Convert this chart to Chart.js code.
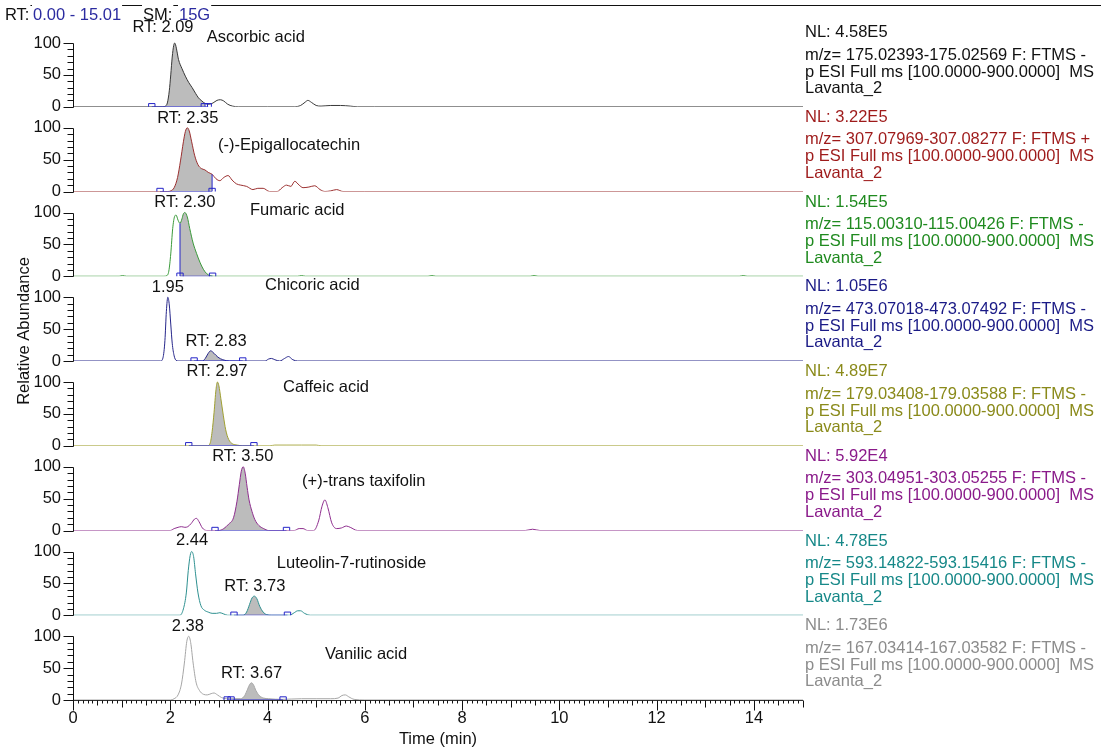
<!DOCTYPE html>
<html>
<head>
<meta charset="utf-8">
<title>Lavanta_2 extracted ion chromatograms</title>
<script src="https://cdn.jsdelivr.net/npm/chart.js@4.4.1/dist/chart.umd.min.js"></script>
<style>
  html, body { margin: 0; padding: 0; background: #fff; }
  canvas { display: block; }
</style>
</head>
<body>
<canvas id="chrom" width="1101" height="749"></canvas>
<script>
const FONT = '"Liberation Sans", Arial, sans-serif';
const FS = 16.5;
const T_MAX = 15.01;
const Y_MAX = 133;
const X_TICKS = [0, 2, 4, 6, 8, 10, 12, 14];
const Y_TICKS = [0, 50, 100];

// retention time (min) / relative abundance (%) for each extracted ion trace
const ascorbicTime = [0, 1.85, 1.90, 1.94, 1.98, 2.01, 2.04, 2.07, 2.09, 2.11, 2.14, 2.17, 2.24, 2.31, 2.38, 2.45, 2.52, 2.58, 2.65, 2.72, 2.80, 2.88, 2.96, 3.03, 3.10, 3.18, 3.28, 3.40, 4.00, 4.55, 4.68, 4.77, 4.83, 4.90, 5.00, 5.10, 5.30, 5.50, 5.70, 5.85, 6.20, 15.01];
const ascorbicAbund = [0, 0, 1, 6, 25, 50, 78, 96, 100, 97, 86, 74, 60, 48, 38, 30, 21, 14, 9, 5, 4, 6, 10, 11, 9, 4, 1, 0, 0, 0, 2, 7, 10, 7, 2, 1, 2, 2, 1, 0, 0, 0];

const egcTime = [0, 1.95, 2.01, 2.08, 2.15, 2.21, 2.27, 2.31, 2.35, 2.39, 2.44, 2.50, 2.57, 2.64, 2.71, 2.78, 2.86, 2.94, 3.02, 3.10, 3.19, 3.27, 3.36, 3.45, 3.57, 3.70, 3.80, 3.91, 4.04, 4.20, 4.30, 4.39, 4.48, 4.56, 4.65, 4.73, 4.85, 4.97, 5.08, 5.18, 5.30, 5.42, 5.55, 6.00, 15.01];
const egcAbund = [0, 0, 1, 6, 22, 48, 78, 94, 100, 95, 78, 57, 42, 36, 34, 30, 27, 20, 17, 22, 25, 18, 12, 10, 8, 3, 5, 5, 0, 0, 6, 10, 8, 16, 10, 6, 7, 9, 3, 0, 1, 3, 0, 0, 0];

const fumaricTime = [0, 0.95, 1.02, 1.10, 1.87, 1.93, 1.97, 2.01, 2.05, 2.09, 2.12, 2.16, 2.20, 2.24, 2.27, 2.30, 2.35, 2.40, 2.47, 2.54, 2.61, 2.68, 2.75, 2.82, 2.90, 4.62, 4.70, 4.78, 7.30, 7.38, 7.46, 9.40, 9.48, 9.56, 13.70, 13.78, 13.86, 15.01];
const fumaricAbund = [0, 0, 1, 0, 0, 1, 8, 35, 75, 94, 96, 88, 83, 90, 98, 100, 93, 75, 52, 36, 22, 11, 4, 1, 0, 0, 1, 0, 0, 1, 0, 0, 1, 0, 0, 1, 0, 0];

const chicoricTime = [0, 1.80, 1.85, 1.89, 1.92, 1.95, 1.98, 2.01, 2.04, 2.08, 2.12, 2.16, 2.66, 2.72, 2.78, 2.83, 2.90, 2.98, 3.08, 3.22, 3.95, 4.02, 4.08, 4.15, 4.25, 4.35, 4.43, 4.52, 4.62, 15.01];
const chicoricAbund = [0, 0, 5, 32, 78, 100, 88, 58, 28, 8, 1, 0, 0, 4, 12, 16, 12, 6, 2, 0, 0, 3, 4, 2, 0, 4, 7, 2, 0, 0];

const caffeicTime = [0, 2.76, 2.82, 2.86, 2.90, 2.94, 2.97, 3.00, 3.04, 3.09, 3.14, 3.20, 3.28, 3.38, 3.48, 4.05, 4.15, 4.40, 4.70, 5.00, 5.10, 15.01];
const caffeicAbund = [0, 0, 4, 22, 52, 88, 100, 94, 74, 48, 25, 10, 3, 1, 0, 0, 1, 1, 1, 1, 0, 0];

const taxifolinTime = [0, 2.00, 2.08, 2.16, 2.23, 2.30, 2.36, 2.43, 2.50, 2.54, 2.59, 2.66, 2.75, 3.00, 3.10, 3.20, 3.30, 3.37, 3.42, 3.46, 3.50, 3.54, 3.58, 3.62, 3.68, 3.74, 3.82, 3.92, 4.02, 4.55, 4.65, 4.73, 4.82, 4.95, 5.05, 5.12, 5.18, 5.24, 5.32, 5.42, 5.52, 5.62, 5.70, 5.85, 9.30, 9.45, 9.60, 15.01];
const taxifolinAbund = [0, 0, 3, 5, 6, 5, 6, 11, 18, 19, 14, 4, 0, 0, 3, 10, 20, 45, 72, 93, 100, 90, 68, 48, 30, 17, 8, 3, 0, 0, 3, 3, 0, 0, 15, 38, 48, 36, 12, 3, 4, 7, 5, 0, 0, 2, 0, 0];

const luteolinTime = [0, 2.20, 2.27, 2.33, 2.37, 2.41, 2.44, 2.48, 2.52, 2.57, 2.63, 2.70, 2.78, 2.86, 2.95, 3.02, 3.10, 3.18, 3.50, 3.57, 3.63, 3.68, 3.73, 3.78, 3.84, 3.91, 3.98, 4.08, 4.45, 4.55, 4.62, 4.68, 4.76, 4.88, 15.01];
const luteolinAbund = [0, 0, 10, 35, 70, 94, 100, 92, 65, 35, 15, 8, 5, 3, 3, 4, 2, 0, 0, 5, 17, 27, 30, 26, 14, 5, 1, 0, 0, 4, 7, 7, 3, 0, 0];

const vanilicTime = [0, 2.00, 2.08, 2.16, 2.23, 2.29, 2.34, 2.38, 2.42, 2.47, 2.53, 2.60, 2.68, 2.76, 2.84, 2.90, 2.97, 3.05, 3.15, 3.30, 3.45, 3.53, 3.59, 3.63, 3.67, 3.71, 3.76, 3.83, 3.92, 4.02, 4.30, 4.70, 5.00, 5.30, 5.45, 5.53, 5.60, 5.67, 5.78, 6.00, 15.01];
const vanilicAbund = [0, 0, 2, 8, 25, 58, 92, 100, 90, 58, 28, 15, 9, 8, 10, 11, 8, 4, 2, 2, 2, 7, 17, 24, 27, 24, 15, 7, 3, 2, 1, 2, 2, 2, 3, 7, 8, 5, 1, 0, 0];

// integration limits (min) of the shaded peak; a drop time splits a merged peak
const ascorbicLimits = [1.62, 2.70, 2.78];
const egcLimits = [1.79, 2.86];
const fumaricLimits = [2.20, 2.87];
const chicoricLimits = [2.49, 3.49];
const caffeicLimits = [2.38, 3.72];
const taxifolinLimits = [2.92, 4.39];
const luteolinLimits = [3.31, 4.41];
const vanilicLimits = [3.17, 3.25, 4.32];

const SCAN = 'p ESI Full ms [100.0000-900.0000]  MS';
const RAW = 'Lavanta_2';

const panels = [
  { time: ascorbicTime, abund: ascorbicAbund, limits: ascorbicLimits, drop: null,
    line: '#383838', text: '#111111', nl: 'NL: 4.58E5', mz: 'm/z= 175.02393-175.02569 F: FTMS -',
    labels: [['RT: 2.09', 1.85, 125, 'center'], ['Ascorbic acid', 2.75, 108, 'left']] },
  { time: egcTime, abund: egcAbund, limits: egcLimits, drop: 2.86,
    line: '#9b3030', text: '#9e1a1a', nl: 'NL: 3.22E5', mz: 'm/z= 307.07969-307.08277 F: FTMS +',
    labels: [['RT: 2.35', 2.36, 115, 'center'], ['(-)-Epigallocatechin', 2.98, 73, 'left']] },
  { time: fumaricTime, abund: fumaricAbund, limits: fumaricLimits, drop: 2.20,
    line: '#3a9a3a', text: '#1f8a1f', nl: 'NL: 1.54E5', mz: 'm/z= 115.00310-115.00426 F: FTMS -',
    labels: [['RT: 2.30', 2.30, 116, 'center'], ['Fumaric acid', 3.64, 104, 'left']] },
  { time: chicoricTime, abund: chicoricAbund, limits: chicoricLimits, drop: null,
    line: '#26268a', text: '#1a1a86', nl: 'NL: 1.05E6', mz: 'm/z= 473.07018-473.07492 F: FTMS -',
    labels: [['1.95', 1.95, 116, 'center'], ['Chicoric acid', 3.95, 118, 'left'], ['RT: 2.83', 2.94, 30, 'center']] },
  { time: caffeicTime, abund: caffeicAbund, limits: caffeicLimits, drop: null,
    line: '#a0a030', text: '#8a8a1a', nl: 'NL: 4.89E7', mz: 'm/z= 179.03408-179.03588 F: FTMS -',
    labels: [['RT: 2.97', 2.96, 116, 'center'], ['Caffeic acid', 4.32, 91, 'left']] },
  { time: taxifolinTime, abund: taxifolinAbund, limits: taxifolinLimits, drop: null,
    line: '#8e2e8e', text: '#8a1a8a', nl: 'NL: 5.92E4', mz: 'm/z= 303.04951-303.05255 F: FTMS -',
    labels: [['RT: 3.50', 3.49, 116, 'center'], ['(+)-trans taxifolin', 4.71, 77, 'left']] },
  { time: luteolinTime, abund: luteolinAbund, limits: luteolinLimits, drop: null,
    line: '#2e9090', text: '#168888', nl: 'NL: 4.78E5', mz: 'm/z= 593.14822-593.15416 F: FTMS -',
    labels: [['2.44', 2.45, 117, 'center'], ['Luteolin-7-rutinoside', 4.19, 82, 'left'], ['RT: 3.73', 3.74, 45, 'center']] },
  { time: vanilicTime, abund: vanilicAbund, limits: vanilicLimits, drop: null,
    line: '#a6a6a6', text: '#8c8c8c', nl: 'NL: 1.73E6', mz: 'm/z= 167.03414-167.03582 F: FTMS -',
    labels: [['2.38', 2.36, 116, 'center'], ['Vanilic acid', 5.18, 72, 'left'], ['RT: 3.67', 3.67, 42, 'center']] }
];

const PEAK_FILL = '#bcbcbc';
const LIMIT_BLUE = '#2424c8';

const datasets = [];
const scales = {
  x: {
    type: 'linear', position: 'bottom', min: 0, max: T_MAX,
    afterBuildTicks: s => { s.ticks = X_TICKS.map(v => ({ value: v })); },
    afterFit: s => { s.height = 49; },
    grid: { display: false, drawTicks: false },
    border: { display: false },
    ticks: { font: { family: FONT, size: FS }, color: '#111', padding: 9, maxRotation: 0, autoSkip: false },
    title: { display: true, text: 'Time (min)', font: { family: FONT, size: FS }, color: '#111', padding: { top: 0, bottom: 0 } }
  }
};

panels.forEach((p, i) => { p.id = 'y' + i; });

// stacked left axes are laid out bottom-up, so register the last trace first
panels.slice().reverse().forEach(p => {
  scales[p.id] = {
    type: 'linear', position: 'left', stack: 'traces', stackWeight: 1,
    min: 0, max: Y_MAX,
    afterBuildTicks: s => { s.ticks = Y_TICKS.map(v => ({ value: v })); },
    afterFit: s => { s.width = 73; },
    grid: { display: false, drawTicks: false },
    border: { display: false },
    ticks: { font: { family: FONT, size: FS }, color: '#111', padding: 12, autoSkip: false }
  };
});

panels.forEach(p => {
  const id = p.id;
  const pts = p.time.map((t, k) => ({ x: t, y: p.abund[k] }));
  const lo = p.limits[0], hi = p.limits[p.limits.length - 1];
  const start = p.drop !== null && p.drop < (lo + hi) / 2 ? p.drop : lo;

  // shaded integrated area
  datasets.push({
    data: pts.filter(d => d.x >= start && d.x <= hi),
    yAxisID: id, xAxisID: 'x', order: 3,
    fill: 'origin', backgroundColor: PEAK_FILL, borderWidth: 0,
    pointRadius: 0, cubicInterpolationMode: 'monotone'
  });
  // the trace itself
  datasets.push({
    data: pts, yAxisID: id, xAxisID: 'x', order: 2,
    borderColor: p.line, borderWidth: 1, fill: false,
    pointRadius: 0, cubicInterpolationMode: 'monotone'
  });
  // integration baseline with its end markers
  datasets.push({
    data: p.limits.map(t => ({ x: t, y: 0 })), yAxisID: id, xAxisID: 'x', order: 1,
    borderColor: LIMIT_BLUE, borderWidth: 1, tension: 0,
    pointStyle: 'rect', pointRadius: 4.5, pointBorderWidth: 1,
    pointBorderColor: LIMIT_BLUE, pointBackgroundColor: 'rgba(0,0,0,0)'
  });
  if (p.drop !== null) {
    const k = p.time.indexOf(p.drop);
    const top = k >= 0 ? p.abund[k] : 0;
    datasets.push({
      data: [{ x: p.drop, y: 0 }, { x: p.drop, y: top }], yAxisID: id, xAxisID: 'x', order: 1,
      borderColor: LIMIT_BLUE, borderWidth: 1, pointRadius: 0, tension: 0
    });
  }
});

const crisp = v => Math.round(v) + 0.5;
const bottomScale = chart => chart.scales[panels[panels.length - 1].id];

const decor = {
  id: 'decor',
  beforeDatasetsDraw(chart) {
    const ctx = chart.ctx, xs = chart.scales.x;
    const yb = crisp(bottomScale(chart).getPixelForValue(0));
    ctx.save();
    ctx.strokeStyle = '#333';
    ctx.lineWidth = 1;
    ctx.beginPath();
    ctx.moveTo(xs.left, yb);
    ctx.lineTo(xs.right, yb);
    ctx.stroke();

    // header line with range / smoothing info
    ctx.strokeStyle = '#111';
    ctx.beginPath();
    ctx.moveTo(5, 5.5);
    ctx.lineTo(chart.width, 5.5);
    ctx.stroke();
    ctx.font = FS + 'px ' + FONT;
    ctx.textBaseline = 'middle';
    ctx.textAlign = 'left';
    [['RT:', 5, '#111'], ['0.00 - 15.01', 33, '#2b2ba0'], ['SM:', 143, '#111'], ['15G', 179, '#2b2ba0']].forEach(([txt, x, col]) => {
      const w = ctx.measureText(txt).width;
      ctx.fillStyle = '#fff';
      ctx.fillRect(x - 1, 0, w + 2, 20);
      ctx.fillStyle = col;
      ctx.fillText(txt, x, 15);
    });
    ctx.restore();
  },
  afterDatasetsDraw(chart) {
    const ctx = chart.ctx, xs = chart.scales.x;
    ctx.save();
    ctx.font = FS + 'px ' + FONT;
    ctx.textBaseline = 'middle';
    ctx.fillStyle = '#111';
    panels.forEach(p => {
      const ys = chart.scales[p.id];
      p.labels.forEach(([txt, t, v, align]) => {
        ctx.textAlign = align;
        ctx.fillText(txt, xs.getPixelForValue(t), ys.getPixelForValue(v));
      });
    });
    ctx.restore();
  },
  afterDraw(chart) {
    const ctx = chart.ctx, xs = chart.scales.x;
    const x0 = crisp(xs.left);
    ctx.save();
    ctx.strokeStyle = '#111';
    ctx.lineWidth = 1;

    // y axis spines, 0-100 only, with minor ticks every 10
    panels.forEach(p => {
      const ys = chart.scales[p.id];
      ctx.beginPath();
      ctx.moveTo(x0, crisp(ys.getPixelForValue(0)));
      ctx.lineTo(x0, crisp(ys.getPixelForValue(100)));
      for (let v = 0; v <= 100; v += 10) {
        const y = crisp(ys.getPixelForValue(v));
        ctx.moveTo(x0 - (v % 50 === 0 ? 10 : 6), y);
        ctx.lineTo(x0, y);
      }
      ctx.stroke();
    });

    // time axis ticks every 0.1 min
    const yb = crisp(bottomScale(chart).getPixelForValue(0));
    ctx.beginPath();
    for (let k = 0; k <= 150; k++) {
      const x = crisp(xs.getPixelForValue(k / 10));
      const len = k % 20 === 0 ? 10 : k % 10 === 0 ? 7 : k % 5 === 0 ? 5 : 3;
      ctx.moveTo(x, yb);
      ctx.lineTo(x, yb + len);
    }
    ctx.stroke();

    ctx.font = FS + 'px ' + FONT;
    ctx.textBaseline = 'middle';
    ctx.textAlign = 'left';

    // per-trace scan description on the right
    panels.forEach(p => {
      const top = chart.scales[p.id].top;
      const xl = xs.right + 2;
      ctx.fillStyle = p.text;
      ctx.fillText(p.nl, xl, top + 10.5);
      ctx.fillText(p.mz, xl, top + 33);
      ctx.fillText(SCAN, xl, top + 50);
      ctx.fillText(RAW, xl, top + 66.5);
    });

    // shared y title
    ctx.fillStyle = '#111';
    ctx.translate(24, (chart.chartArea.top + chart.chartArea.bottom) / 2 - 30);
    ctx.rotate(-Math.PI / 2);
    ctx.textAlign = 'center';
    ctx.fillText('Relative Abundance', 0, 0);
    ctx.restore();
  }
};

new Chart(document.getElementById('chrom').getContext('2d'), {
  type: 'line',
  data: { datasets },
  options: {
    responsive: false,
    animation: false,
    layout: { padding: { left: 0, right: 298, top: 22, bottom: 0 } },
    scales,
    plugins: { legend: { display: false }, tooltip: { enabled: false } }
  },
  plugins: [decor]
});
</script>
</body>
</html>
